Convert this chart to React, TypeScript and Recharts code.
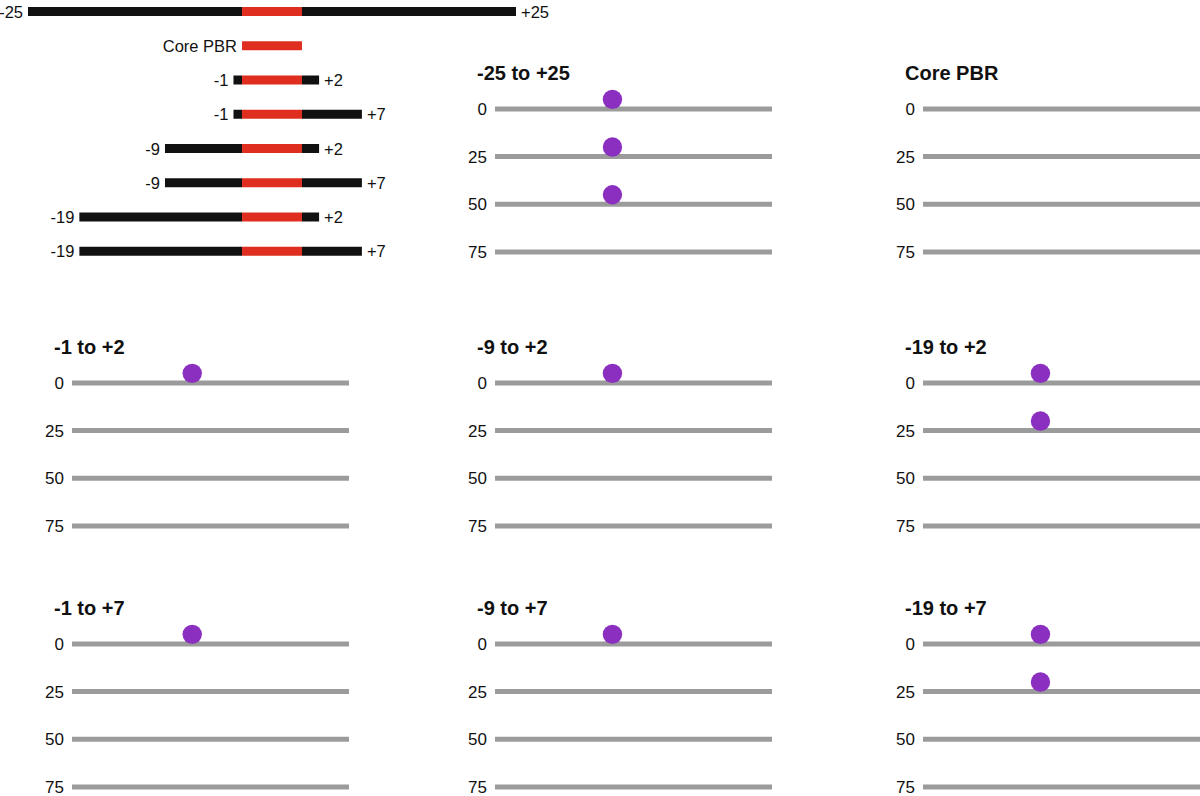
import { BarChart, Bar, XAxis, YAxis, LabelList, ScatterChart, Scatter, CartesianGrid } from "recharts";

const FONT = "'Liberation Sans', Arial, Helvetica, sans-serif";
const COLORS = { black: "#111111", red: "#df2e1f", grid: "#9b9b9b", dot: "#8b2fc0", text: "#111111" };

// construct diagram: extension left of core, core length, extension right of core
const constructRows = ["full", "core", "m1p2", "m1p7", "m9p2", "m9p7", "m19p2", "m19p7"];
const leftExt = [-25, 0, -1, -1, -9, -9, -19, -19];
const coreLen = [7, 7, 7, 7, 7, 7, 7, 7];
const rightExt = [25, 0, 2, 7, 2, 7, 2, 7];
const leftLabels = ["-25", "Core PBR", "-1", "-1", "-9", "-9", "-19", "-19"];
const rightLabels = ["+25", "", "+2", "+7", "+2", "+7", "+2", "+7"];

// small panels
const panelTitles = ["-25 to +25", "Core PBR", "-1 to +2", "-9 to +2", "-19 to +2", "-1 to +7", "-9 to +7", "-19 to +7"];
const panelCols = [1, 2, 0, 1, 2, 0, 1, 2];
const panelRows = [0, 0, 1, 1, 1, 2, 2, 2];
const yTicks = [0, 25, 50, 75];
const dotX = [42.4, 0, 43.4, 42.4, 42.4, 43.4, 42.4, 42.4];
const dotY: number[][] = [[-5, 20, 45], [], [-5], [-5], [-5, 20], [-5], [-5], [-5, 20]];

// labels sit on the left black piece, or on the core when there is no left piece
const diagramData = constructRows.map((name, i) => ({
  name,
  left: leftExt[i],
  core: coreLen[i],
  right: rightExt[i],
  leftLabel: leftExt[i] !== 0 ? leftLabels[i] : "",
  coreLabel: leftExt[i] === 0 ? leftLabels[i] : "",
  rightLabel: rightLabels[i],
}));

const colPlotLeft = [72, 495, 923];
const rowZeroY = [109, 383, 644];
const PLOT_W = 277;
const AXIS_W = 60;

function sideLabel(side: "left" | "right") {
  return (props: any) => {
    const vb = props.viewBox || props;
    const x = Number(vb.x ?? props.x);
    const w = Number(vb.width ?? props.width ?? 0);
    const y = Number(vb.y ?? props.y);
    const h = Number(vb.height ?? props.height ?? 0);
    if (!props.value) return null;
    const edge = side === "left" ? Math.min(x, x + w) - 5 : Math.max(x, x + w) + 5;
    return (
      <text
        x={edge}
        y={y + h / 2}
        textAnchor={side === "left" ? "end" : "start"}
        dominantBaseline="central"
        fontSize={16.5}
        fontFamily={FONT}
        fill={COLORS.text}
      >
        {props.value}
      </text>
    );
  };
}

function Diagram() {
  return (
    <div style={{ position: "absolute", left: 0, top: -6 }}>
      <BarChart
        width={560}
        height={274}
        data={diagramData}
        layout="vertical"
        stackOffset="sign"
        margin={{ top: 0, right: 44, bottom: 0, left: 28 }}
      >
        <XAxis type="number" domain={[-25, 32]} hide allowDataOverflow />
        <YAxis type="category" dataKey="name" hide />
        <Bar dataKey="left" stackId="a" fill={COLORS.black} barSize={9} isAnimationActive={false}>
          <LabelList dataKey="leftLabel" content={sideLabel("left")} />
        </Bar>
        <Bar dataKey="core" stackId="a" fill={COLORS.red} barSize={9} isAnimationActive={false}>
          <LabelList dataKey="coreLabel" content={sideLabel("left")} />
        </Bar>
        <Bar dataKey="right" stackId="a" fill={COLORS.black} barSize={9} isAnimationActive={false}>
          <LabelList dataKey="rightLabel" content={sideLabel("right")} />
        </Bar>
      </BarChart>
    </div>
  );
}

// grid lines only at the y ticks (not at the plot's top edge)
function tickLines(args: any) {
  const s = args?.yAxis?.scale;
  if (!s) return [];
  return yTicks.map((t) => (typeof s === "function" ? s(t) : s.map ? s.map(t) : NaN)).filter((v) => Number.isFinite(v));
}

function Panel({ idx }: { idx: number }) {
  const plotLeft = colPlotLeft[panelCols[idx]];
  const zeroY = rowZeroY[panelRows[idx]];
  const data = dotY[idx].map((y) => ({ x: dotX[idx], y }));
  return (
    <>
      <div
        style={{
          position: "absolute",
          left: plotLeft - 18,
          top: zeroY - 49,
          height: 26,
          lineHeight: "26px",
          fontFamily: FONT,
          fontWeight: "bold",
          fontSize: 20,
          color: COLORS.text,
          whiteSpace: "nowrap",
        }}
      >
        {panelTitles[idx]}
      </div>
      <div style={{ position: "absolute", left: plotLeft - AXIS_W, top: zeroY - 23 }}>
        <ScatterChart width={AXIS_W + PLOT_W} height={180} margin={{ top: 0, right: 0, bottom: 14, left: 0 }}>
          <CartesianGrid
            vertical={false}
            stroke={COLORS.grid}
            strokeWidth={5}
            horizontalCoordinatesGenerator={tickLines}
          />
          <XAxis type="number" dataKey="x" domain={[0, 100]} hide />
          <YAxis
            type="number"
            dataKey="y"
            reversed
            domain={[-12, 75]}
            ticks={yTicks}
            interval={0}
            allowDataOverflow
            width={AXIS_W}
            axisLine={false}
            tickLine={false}
            tick={{ fontSize: 17, fontFamily: FONT, fill: COLORS.text }}
          />
          <Scatter
            data={data}
            isAnimationActive={false}
            shape={(p: any) => <circle cx={p.cx} cy={p.cy} r={9.7} fill={COLORS.dot} />}
          />
        </ScatterChart>
      </div>
    </>
  );
}

export default function App() {
  return (
    <div
      style={{
        position: "absolute",
        left: 0,
        top: 0,
        width: 1200,
        height: 796,
        overflow: "hidden",
        background: "#fff",
        fontFamily: FONT,
      }}
    >
      <Diagram />
      {panelTitles.map((_, i) => (
        <Panel key={i} idx={i} />
      ))}
    </div>
  );
}
